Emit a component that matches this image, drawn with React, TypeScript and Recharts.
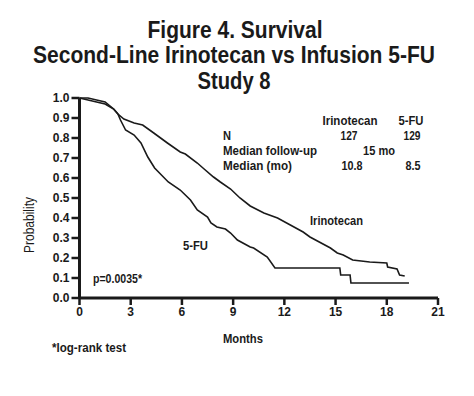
import React from "react";
import { LineChart, Line, XAxis, YAxis } from "recharts";

const irinotecanMonths = [0, 0.5, 1.0, 1.5, 2.0, 2.25, 2.6, 3.2, 3.7, 4.35, 5.15, 5.9, 6.2, 6.9, 7.3, 7.85, 8.25, 8.85, 9.4, 10.0, 10.8, 11.6, 12.35, 13.1, 13.5, 14.7, 15.1, 15.45, 16.0, 17.0, 18.0, 18.05, 18.6, 18.75, 19.05];
const irinotecanSurvival = [1.0, 1.0, 0.99, 0.98, 0.945, 0.92, 0.895, 0.875, 0.865, 0.825, 0.775, 0.73, 0.72, 0.675, 0.645, 0.605, 0.58, 0.545, 0.5, 0.46, 0.425, 0.4, 0.365, 0.33, 0.305, 0.25, 0.225, 0.215, 0.19, 0.18, 0.175, 0.155, 0.145, 0.115, 0.11];

const fuMonths = [0, 0.5, 1.0, 1.5, 2.0, 2.25, 2.4, 2.7, 3.2, 3.6, 4.0, 4.4, 5.2, 5.9, 6.5, 6.9, 7.5, 7.7, 8.05, 8.55, 8.85, 9.25, 10.0, 10.2, 11.0, 11.45, 15.25, 15.3, 15.85, 15.9, 19.3];
const fuSurvival = [1.0, 0.99, 0.98, 0.97, 0.945, 0.92, 0.89, 0.84, 0.815, 0.775, 0.705, 0.65, 0.58, 0.54, 0.49, 0.44, 0.405, 0.375, 0.355, 0.345, 0.325, 0.29, 0.255, 0.25, 0.205, 0.15, 0.15, 0.115, 0.115, 0.075, 0.075];

const xTicks = [0, 3, 6, 9, 12, 15, 18, 21];
const yTicks = [0, 0.1, 0.2, 0.3, 0.4, 0.5, 0.6, 0.7, 0.8, 0.9, 1.0];

const titleLines = ["Figure 4. Survival", "Second-Line Irinotecan vs Infusion 5-FU", "Study 8"];
const tableHeader = ["Irinotecan", "5-FU"];
const tableRows = [
  { label: "N", a: "127", b: "129" },
  { label: "Median follow-up", a: "15 mo", b: "" },
  { label: "Median (mo)", a: "10.8", b: "8.5" },
];

const irinotecanData = irinotecanMonths.map((m, i) => ({ m, s: irinotecanSurvival[i] }));
const fuData = fuMonths.map((m, i) => ({ m, s: fuSurvival[i] }));

const FONT = "'Liberation Sans', Arial, sans-serif";
const INK = "#1a1a1a";

type TProps = { x: number; y: number; w: number; size: number; anchor?: "start" | "middle" | "end"; children: React.ReactNode; weight?: number };
function T({ x, y, w, size, anchor = "start", children, weight = 700 }: TProps) {
  return (
    <text x={x} y={y} fontSize={size} textAnchor={anchor} fontWeight={weight} textLength={w} lengthAdjust="spacingAndGlyphs">
      {children}
    </text>
  );
}

export default function App() {
  return (
    <div style={{ position: "absolute", left: 0, top: 0, width: 474, height: 396, background: "#fff" }}>
      <LineChart width={474} height={396} margin={{ top: 98, right: 36, bottom: 0, left: 19.5 }}>
        <XAxis
          type="number"
          dataKey="m"
          domain={[0, 21]}
          ticks={xTicks}
          allowDuplicatedCategory={false}
          height={98}
          axisLine={{ stroke: INK, strokeWidth: 3 }}
          tickLine={{ stroke: INK, strokeWidth: 2.5 }}
          tickSize={7}
          tick={{ fill: INK, fontSize: 12, fontWeight: 700, fontFamily: FONT }}
        />
        <YAxis
          type="number"
          dataKey="s"
          domain={[0, 1]}
          ticks={yTicks}
          width={60}
          axisLine={{ stroke: INK, strokeWidth: 3 }}
          tickLine={{ stroke: INK, strokeWidth: 2.5 }}
          tickSize={8}
          tickFormatter={(v: number) => v.toFixed(1)}
          tick={{ fill: INK, fontSize: 12, fontWeight: 700, fontFamily: FONT }}
        />
        <Line data={irinotecanData} dataKey="s" type="linear" stroke={INK} strokeWidth={1.6} dot={false} isAnimationActive={false} />
        <Line data={fuData} dataKey="s" type="linear" stroke={INK} strokeWidth={1.6} dot={false} isAnimationActive={false} />
      </LineChart>
      <svg width={474} height={396} style={{ position: "absolute", left: 0, top: 0, pointerEvents: "none" }}>
        <g fontFamily={FONT} fill={INK}>
          <T x={235} y={38} w={175} size={23} anchor="middle">{titleLines[0]}</T>
          <T x={234} y={63} w={402} size={23} anchor="middle">{titleLines[1]}</T>
          <T x={234} y={89} w={73} size={23} anchor="middle">{titleLines[2]}</T>

          <T x={350} y={125} w={55} size={13} anchor="middle">{tableHeader[0]}</T>
          <T x={411} y={125} w={25} size={13} anchor="middle">{tableHeader[1]}</T>
          <T x={223} y={140} w={8} size={13}>{tableRows[0].label}</T>
          <T x={349} y={140} w={17} size={13} anchor="middle">{tableRows[0].a}</T>
          <T x={412} y={140} w={17} size={13} anchor="middle">{tableRows[0].b}</T>
          <T x={223} y={155} w={94} size={13}>{tableRows[1].label}</T>
          <T x={379} y={155} w={32} size={13} anchor="middle">{tableRows[1].a}</T>
          <T x={223} y={170} w={69} size={13}>{tableRows[2].label}</T>
          <T x={352} y={170} w={21} size={13} anchor="middle">{tableRows[2].a}</T>
          <T x={413} y={170} w={15} size={13} anchor="middle">{tableRows[2].b}</T>

          <T x={310} y={225} w={53} size={13}>Irinotecan</T>
          <T x={183} y={250} w={25} size={13}>5-FU</T>
          <T x={93} y={283} w={49} size={13}>p=0.0035*</T>

          <T x={243} y={343} w={40} size={13} anchor="middle">Months</T>
          <T x={52} y={352} w={74} size={13}>*log-rank test</T>
          <g transform="rotate(-90 34 225)">
            <T x={34} y={225} w={56} size={15} anchor="middle" weight={400}>Probability</T>
          </g>
        </g>
      </svg>
    </div>
  );
}
